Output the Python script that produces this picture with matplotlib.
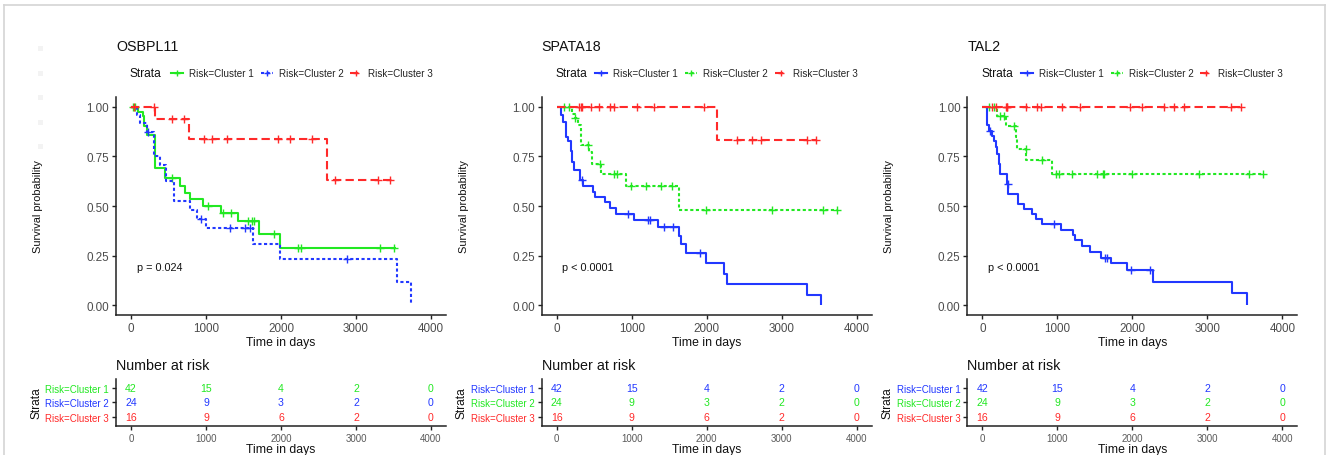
import numpy as np
import matplotlib
matplotlib.use('Agg')
import matplotlib.pyplot as plt
from matplotlib.lines import Line2D
from matplotlib.patches import Rectangle

plt.rcParams['font.family'] = ['Liberation Sans', 'DejaVu Sans']

W, H = 1328, 456

# ---------------- data ----------------
genes = ['OSBPL11', 'SPATA18', 'TAL2']
p_values = ['p = 0.024', 'p < 0.0001', 'p < 0.0001']
strata = ['Risk=Cluster 1', 'Risk=Cluster 2', 'Risk=Cluster 3']
x_ticks = [0, 1000, 2000, 3000, 4000]
y_ticks = [0.0, 0.25, 0.5, 0.75, 1.0]
y_tick_labels = ['0.00', '0.25', '0.50', '0.75', '1.00']

risk_times = [0, 1000, 2000, 3000, 4000]
risk_c1 = [42, 15, 4, 2, 0]
risk_c2 = [24, 9, 3, 2, 0]
risk_c3 = [16, 9, 6, 2, 0]

# OSBPL11
osb_c1_t = [0, 98, 156, 178, 209, 320, 453, 653, 720, 787, 956, 1196, 1431, 1711, 1987, 3533]
osb_c1_s = [1, 0.976, 0.952, 0.905, 0.857, 0.69, 0.64, 0.60, 0.567, 0.533, 0.50, 0.467, 0.425, 0.36, 0.29, 0.29]
osb_c1_cens = [31, 53, 542, 1031, 1231, 1333, 1564, 1609, 1644, 1907, 2231, 2267, 3320, 3511]
osb_c2_t = [0, 84, 120, 209, 307, 387, 462, 573, 787, 876, 1000, 1622, 1987, 3551, 3733]
osb_c2_s = [1, 0.958, 0.917, 0.875, 0.75, 0.708, 0.625, 0.527, 0.48, 0.435, 0.39, 0.31, 0.235, 0.117, 0.0]
osb_c2_cens = [231, 933, 1320, 1520, 1587, 2876]
osb_c3_t = [0, 320, 773, 2609, 3476]
osb_c3_s = [1, 0.9375, 0.84, 0.63, 0.63]
osb_c3_cens = [40, 300, 551, 711, 973, 1076, 1276, 1964, 2120, 2418, 2720, 3298, 3453]

# SPATA18
spa_c1_t = [0, 53, 89, 120, 151, 187, 209, 231, 311, 351, 489, 507, 644, 711, 787, 1031, 1351,
            1631, 1662, 1720, 1987, 2231, 2276, 3342, 3529]
spa_c1_s = [1, 0.96, 0.925, 0.85, 0.83, 0.78, 0.72, 0.68, 0.63, 0.60, 0.573, 0.547, 0.52, 0.49, 0.46,
            0.43, 0.395, 0.35, 0.31, 0.265, 0.21, 0.155, 0.105, 0.053, 0.0]
spa_c1_cens = [333, 956, 1218, 1244, 1431, 1556, 1911]
spa_c2_t = [0, 209, 240, 289, 320, 431, 476, 590, 920, 1631, 3733]
spa_c2_s = [1, 0.965, 0.946, 0.91, 0.81, 0.77, 0.71, 0.66, 0.60, 0.48, 0.48]
spa_c2_cens = [98, 164, 250, 422, 575, 764, 809, 987, 1196, 1387, 1542, 1987, 2876, 3556, 3733]
spa_c3_t = [0, 2133, 3462]
spa_c3_s = [1, 0.835, 0.835]
spa_c3_cens = [298, 320, 342, 453, 564, 711, 764, 1076, 1298, 1964, 2409, 2609, 2729, 3333, 3462]

# TAL2
tal_c1_t = [0, 58, 89, 124, 156, 178, 200, 222, 236, 333, 347, 480, 556, 658, 711, 791, 1044, 1213,
            1236, 1333, 1436, 1578, 1711, 1924, 2280, 3333, 3524]
tal_c1_s = [1, 0.91, 0.88, 0.855, 0.83, 0.80, 0.76, 0.71, 0.66, 0.61, 0.56, 0.51, 0.485, 0.46, 0.435,
            0.41, 0.38, 0.355, 0.33, 0.30, 0.27, 0.24, 0.21, 0.175, 0.115, 0.06, 0.0]
tal_c1_cens = [100, 340, 956, 1631, 1667, 1987, 2236]
tal_c2_t = [0, 200, 311, 444, 467, 587, 933, 3747]
tal_c2_s = [1, 0.955, 0.905, 0.85, 0.79, 0.73, 0.66, 0.66]
tal_c2_cens = [89, 156, 231, 289, 422, 578, 791, 978, 1022, 1200, 1533, 1613, 1622, 1991, 2889, 3556, 3747]
tal_c3_t = [0, 3453]
tal_c3_s = [1, 1]
tal_c3_cens = [133, 178, 311, 324, 333, 578, 733, 778, 1067, 1298, 1969, 2133, 2422, 2556, 2689, 3311, 3453]

panels = [
    [(osb_c1_t, osb_c1_s, osb_c1_cens), (osb_c2_t, osb_c2_s, osb_c2_cens), (osb_c3_t, osb_c3_s, osb_c3_cens)],
    [(spa_c1_t, spa_c1_s, spa_c1_cens), (spa_c2_t, spa_c2_s, spa_c2_cens), (spa_c3_t, spa_c3_s, spa_c3_cens)],
    [(tal_c1_t, tal_c1_s, tal_c1_cens), (tal_c2_t, tal_c2_s, tal_c2_cens), (tal_c3_t, tal_c3_s, tal_c3_cens)],
]

GREEN, BLUE, RED = '#22E822', '#2238FF', '#FF2A2A'
panel_colors = [[GREEN, BLUE, RED], [BLUE, GREEN, RED], [BLUE, GREEN, RED]]
styles = ['-', (0, (1.5, 1.2)), (0, (4, 2))]

# ---------------- layout (pixels) ----------------
lefts = [116, 541.7, 967.3]
AW = 330
main_top, main_bot = 98, 316
tab_top, tab_bot = 380, 426.7

fig = plt.figure(figsize=(W / 100, H / 100), dpi=100)


def fx(x):
    return x / W


def fy(y):
    return 1 - y / H


# frame
for xs, ys in [([4, 1325], [6, 6]), ([4, 4], [6, 456]), ([1325, 1325], [6, 456])]:
    fig.add_artist(Line2D([fx(v) for v in xs], [fy(v) for v in ys], color='#d4d4d4', lw=1.2))
for yy in [49, 74, 98, 123, 147]:
    fig.add_artist(Rectangle((fx(38), fy(yy + 2.5)), 5 / W, 5 / H, color='#f3f3f3', lw=0))

AX_COL = '#222222'
TICK_LAB = '#4d4d4d'

for i, L in enumerate(lefts):
    cols = panel_colors[i]
    ax = fig.add_axes([fx(L), fy(main_bot), AW / W, (main_bot - main_top) / H])
    for k, (t, s, cens) in enumerate(panels[i]):
        t = np.asarray(t, float)
        s = np.asarray(s, float)
        ax.step(t, s, where='post', color=cols[k], lw=1.5, linestyle=styles[k],
                solid_capstyle='butt', dash_capstyle='butt')
        c = np.asarray(cens, float)
        idx = np.searchsorted(t, c, side='right') - 1
        ax.plot(c, s[idx], linestyle='none', marker='+', color=cols[k], ms=5.5, mew=1.0)
    ax.set_xlim(-200, 4200)
    ax.set_ylim(-0.05, 1.05)
    ax.set_xticks(x_ticks)
    ax.set_yticks(y_ticks)
    ax.set_yticklabels(y_tick_labels)
    for sp in ['top', 'right']:
        ax.spines[sp].set_visible(False)
    for sp in ['left', 'bottom']:
        ax.spines[sp].set_color(AX_COL)
        ax.spines[sp].set_linewidth(1.1)
    ax.tick_params(length=3, width=1, color=AX_COL, labelcolor=TICK_LAB, labelsize=8.4, pad=2)
    ax.patch.set_alpha(0)
    ax.text(76, 0.194, p_values[i], fontsize=7.8, color='#111111', ha='left', va='center')
    ax.set_xlabel('Time in days', fontsize=8.8, color='#111111', labelpad=1.5)

    fig.text(fx(L - 78), fy(207), 'Survival probability', rotation=90, fontsize=7.9,
             ha='center', va='center', color='#111111')
    fig.text(fx(L), fy(47), genes[i], fontsize=10.3, ha='left', va='center', color='#111111')

    # legend
    lx = L + 14
    fig.text(fx(lx), fy(74), 'Strata', fontsize=8.6, ha='left', va='center', color='#111111')
    key_x = [lx + 41, lx + 131, lx + 220] if i == 0 else [lx + 39.7, lx + 129.3, lx + 219]
    for k in range(3):
        x0 = key_x[k]
        fig.add_artist(Line2D([fx(x0), fx(x0 + 12)], [fy(74), fy(74)], color=cols[k], lw=1.5,
                              linestyle=styles[k]))
        fig.add_artist(Line2D([fx(x0 + 6)], [fy(74)], color=cols[k], marker='+', ms=5, mew=1.0,
                              linestyle='none'))
        fig.text(fx(x0 + 18), fy(74), strata[k], fontsize=7.1, ha='left', va='center', color='#222222')

    # risk table
    tab = fig.add_axes([fx(L), fy(tab_bot), AW / W, (tab_bot - tab_top) / H])
    tab.set_xlim(-200, 4200)
    tab.set_ylim(0.36, 3.64)
    rows = [risk_c1, risk_c2, risk_c3]
    for k in range(3):
        for tt, n in zip(risk_times, rows[k]):
            tab.text(tt, 3 - k, str(n), color=cols[k], fontsize=7.6, ha='center', va='center')
    tab.set_yticks([3, 2, 1])
    tab.set_yticklabels(strata, fontsize=7.0)
    for k, lab in enumerate(tab.get_yticklabels()):
        lab.set_color(cols[k])
    tab.set_xticks(x_ticks)
    for sp in ['top', 'right']:
        tab.spines[sp].set_visible(False)
    for sp in ['left', 'bottom']:
        tab.spines[sp].set_color(AX_COL)
        tab.spines[sp].set_linewidth(1.1)
    tab.tick_params(axis='x', length=3, width=1, color=AX_COL, labelcolor='#5a5a5a', labelsize=7, pad=2)
    tab.tick_params(axis='y', length=3, width=1, color=AX_COL, pad=2)
    tab.patch.set_alpha(0)
    tab.set_xlabel('Time in days', fontsize=8.8, color='#111111', labelpad=0.5)
    fig.text(fx(L), fy(366), 'Number at risk', fontsize=10.3, ha='left', va='center', color='#111111')
    fig.text(fx(L - 80), fy(403), 'Strata', rotation=90, fontsize=8.6, ha='center', va='center',
             color='#111111')

fig.savefig('out.png', dpi=100)
